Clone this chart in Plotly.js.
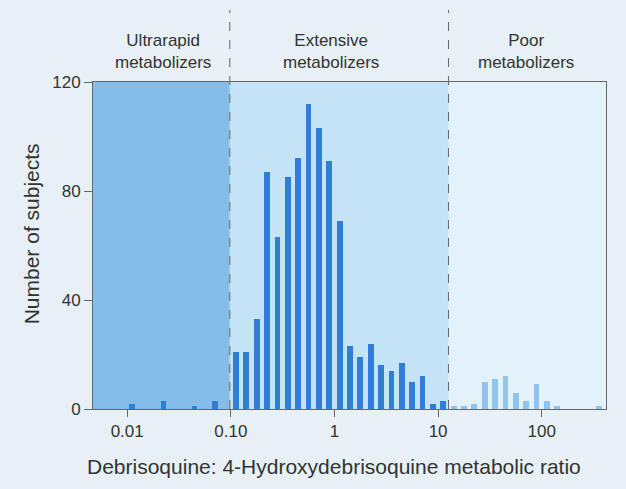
<!DOCTYPE html>
<html>
<head>
<meta charset="utf-8">
<script src="https://cdn.plot.ly/plotly-3.0.1.min.js"></script>
<style>
  html, body { margin: 0; padding: 0; background: #e8f1f5; }
  #chart { width: 626px; height: 489px; }
</style>
</head>
<body>
<div id="chart"></div>
<script>
// Bin centres, as log10 of the metabolic ratio (bins 0.1 decade wide)
const binLog10 = [-1.95, -1.65, -1.35, -1.15,
  -0.95, -0.85, -0.75, -0.65, -0.55, -0.45, -0.35, -0.25, -0.15, -0.05,
  0.05, 0.15, 0.25, 0.35, 0.45, 0.55, 0.65, 0.75, 0.85, 0.95, 1.05,
  1.15, 1.25, 1.35, 1.45, 1.55, 1.65, 1.75, 1.85, 1.95, 2.05, 2.15, 2.55];
// Number of subjects in each bin
const subjects = [2, 3, 1, 3,
  21, 21, 33, 87, 63, 85, 92, 112, 103, 91,
  69, 23, 19, 24, 16, 14, 17, 10, 12, 2, 3,
  1, 1, 2, 10, 11, 12, 6, 3, 9, 3, 1, 1];
// Tick positions (log10) and labels
const tickLog10 = [-2, -1, 0, 1, 2];
const tickLabels = ["0.01", "0.10", "1", "10", "100"];
const yTicks = [0, 40, 80, 120];
// Phenotype boundaries (log10 of ratio) and labels
const boundaries = [-1.01, 1.1];
const groupLabels = ["Ultrarapid<br>metabolizers", "Extensive<br>metabolizers", "Poor<br>metabolizers"];
const xTitle = 'Debrisoquine: 4-Hydroxydebrisoquine metabolic ratio';
const yTitle = 'Number of subjects';

const xMin = -2.33, xMax = 2.62;

const barColors = binLog10.map(v => v > boundaries[1] ? '#8fc4ee' : '#2f7ed3');

const trace = {
  type: 'bar',
  x: binLog10,
  y: subjects,
  width: 0.056,
  marker: { color: barColors, line: { width: 0 } },
  hoverinfo: 'x+y'
};

const labelCentres = [
  (xMin + boundaries[0]) / 2 + 0.02,
  (boundaries[0] + boundaries[1]) / 2 - 0.08,
  (boundaries[1] + xMax) / 2 - 0.01
];

const layout = {
  width: 626, height: 489,
  margin: { l: 93, r: 20, t: 82, b: 80 },
  paper_bgcolor: '#e6f0f5',
  plot_bgcolor: '#e3f2fa',
  showlegend: false,
  bargap: 0,
  font: { family: "'Liberation Sans', Arial, sans-serif", color: '#333333' },
  xaxis: {
    range: [xMin, xMax],
    tickvals: tickLog10,
    ticktext: tickLabels,
    ticks: 'outside', ticklen: 7, tickcolor: '#666',
    showgrid: false, zeroline: false,
    showline: true, linecolor: '#666', linewidth: 1, mirror: true,
    tickfont: { size: 17, color: '#333' }
  },
  yaxis: {
    range: [0, 120],
    tickvals: yTicks,
    ticks: 'outside', ticklen: 8, tickcolor: '#666',
    showgrid: false, zeroline: false,
    showline: true, linecolor: '#666', linewidth: 1, mirror: true,
    tickfont: { size: 17, color: '#333' }
  },
  shapes: [
    { type: 'rect', xref: 'x', yref: 'paper', x0: xMin, x1: boundaries[0], y0: 0, y1: 1,
      fillcolor: '#86bce8', line: { width: 0 }, layer: 'below' },
    { type: 'rect', xref: 'x', yref: 'paper', x0: boundaries[0], x1: boundaries[1], y0: 0, y1: 1,
      fillcolor: '#c4e3f6', line: { width: 0 }, layer: 'below' },
    { type: 'line', xref: 'x', yref: 'paper', x0: boundaries[0], x1: boundaries[0], y0: 0, y1: 1.22,
      line: { color: '#666', width: 1, dash: 'dash' } },
    { type: 'line', xref: 'x', yref: 'paper', x0: boundaries[1], x1: boundaries[1], y0: 0, y1: 1.22,
      line: { color: '#666', width: 1, dash: 'dash' } }
  ],
  annotations: groupLabels.map((t, i) => ({
    text: t, xref: 'x', yref: 'paper', x: labelCentres[i], y: 1.092,
    showarrow: false, xanchor: 'center', yanchor: 'middle',
    font: { size: 17, color: '#333' }
  })).concat([
    { text: xTitle, xref: 'paper', yref: 'paper', x: 0.47, y: -0.175,
      showarrow: false, xanchor: 'center', yanchor: 'middle',
      font: { size: 21, color: '#333' } },
    { text: yTitle, xref: 'paper', yref: 'paper', x: -0.121, y: 0.537, textangle: -90,
      showarrow: false, xanchor: 'center', yanchor: 'middle',
      font: { size: 21, color: '#333' } }
  ])
};

Plotly.newPlot('chart', [trace], layout, { displayModeBar: false, staticPlot: true });
</script>
</body>
</html>
